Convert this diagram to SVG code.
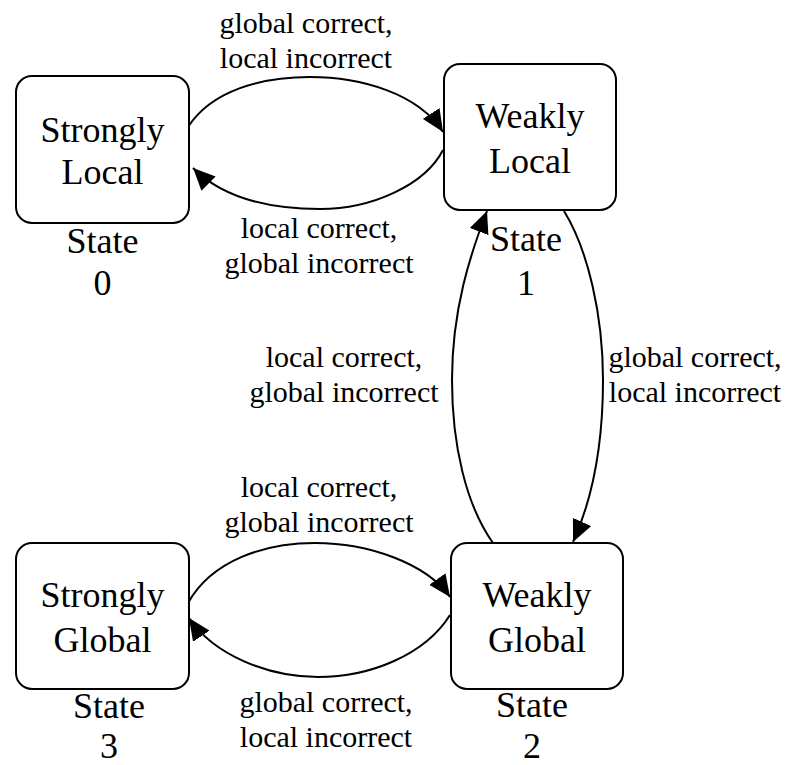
<svg xmlns="http://www.w3.org/2000/svg" width="786" height="765" viewBox="0 0 786 765">
  <style>
    .box { fill: #ffffff; stroke: #000000; stroke-width: 2; }
    .edge { fill: none; stroke: #000000; stroke-width: 2; }
    .name { font-family: "Liberation Serif", "Times New Roman", serif; font-size: 36px; fill: #000000; text-anchor: middle; }
    .lbl { font-family: "Liberation Serif", "Times New Roman", serif; font-size: 30px; fill: #000000; text-anchor: middle; }
  </style>
  <defs>
    <marker id="arrow" viewBox="0 0 22 20" refX="22" refY="10" markerWidth="22" markerHeight="20" markerUnits="userSpaceOnUse" orient="auto">
      <path d="M0,0 L22,10 L0,20 z" fill="#000000"/>
    </marker>
  </defs>

  <rect width="786" height="765" fill="#ffffff"/>

  <!-- transitions -->
  <g id="edges">
    <!-- 0 -> 1 -->
    <path class="edge" marker-end="url(#arrow)" d="M188,127 C212,90 262,77 310,77 C360,77 418,93 443,132"/>
    <!-- 1 -> 0 -->
    <path class="edge" marker-end="url(#arrow)" d="M443,150 C425,185 372,209 320,209 C272,209 225,200 193,168"/>
    <!-- 1 -> 2 -->
    <path class="edge" marker-end="url(#arrow)" d="M564,211 C588,250 603,315 603,380 C603,450 592,500 573,542"/>
    <!-- 2 -> 1 -->
    <path class="edge" marker-end="url(#arrow)" d="M493,543 C466,505 452,445 452,380 C452,310 470,255 487,211"/>
    <!-- 3 -> 2 -->
    <path class="edge" marker-end="url(#arrow)" d="M188,603 C212,560 265,543 315,543 C368,543 426,563 450,597"/>
    <!-- 2 -> 3 -->
    <path class="edge" marker-end="url(#arrow)" d="M450,615 C425,655 370,677 318,677 C268,677 214,655 189,618"/>

    <text class="lbl"><tspan x="306" y="33">global correct,</tspan><tspan x="306" y="68">local incorrect</tspan></text>
    <text class="lbl"><tspan x="319" y="238">local correct,</tspan><tspan x="319" y="273">global incorrect</tspan></text>
    <text class="lbl"><tspan x="344" y="367">local correct,</tspan><tspan x="344" y="402">global incorrect</tspan></text>
    <text class="lbl"><tspan x="695" y="367">global correct,</tspan><tspan x="695" y="402">local incorrect</tspan></text>
    <text class="lbl"><tspan x="319" y="497">local correct,</tspan><tspan x="319" y="532">global incorrect</tspan></text>
    <text class="lbl"><tspan x="326" y="712">global correct,</tspan><tspan x="326" y="747">local incorrect</tspan></text>
  </g>

  <!-- states -->
  <g id="state0">
    <rect class="box" x="16" y="76" width="173" height="147" rx="16"/>
    <text class="name"><tspan x="102.5" y="142">Strongly</tspan><tspan x="102.5" y="184">Local</tspan></text>
    <text class="name"><tspan x="102.5" y="253">State</tspan><tspan x="102.5" y="295">0</tspan></text>
  </g>
  <g id="state1">
    <rect class="box" x="444" y="64" width="172" height="146" rx="16"/>
    <text class="name"><tspan x="530" y="128">Weakly</tspan><tspan x="530" y="173">Local</tspan></text>
    <text class="name"><tspan x="526" y="251">State</tspan><tspan x="526" y="295">1</tspan></text>
  </g>
  <g id="state2">
    <rect class="box" x="451" y="543" width="172" height="146" rx="16"/>
    <text class="name"><tspan x="537" y="607">Weakly</tspan><tspan x="537" y="652">Global</tspan></text>
    <text class="name"><tspan x="532" y="717">State</tspan><tspan x="532" y="758">2</tspan></text>
  </g>
  <g id="state3">
    <rect class="box" x="16" y="543" width="173" height="146" rx="16"/>
    <text class="name"><tspan x="102.5" y="607">Strongly</tspan><tspan x="102.5" y="652">Global</tspan></text>
    <text class="name"><tspan x="109" y="718">State</tspan><tspan x="109" y="758">3</tspan></text>
  </g>
</svg>
